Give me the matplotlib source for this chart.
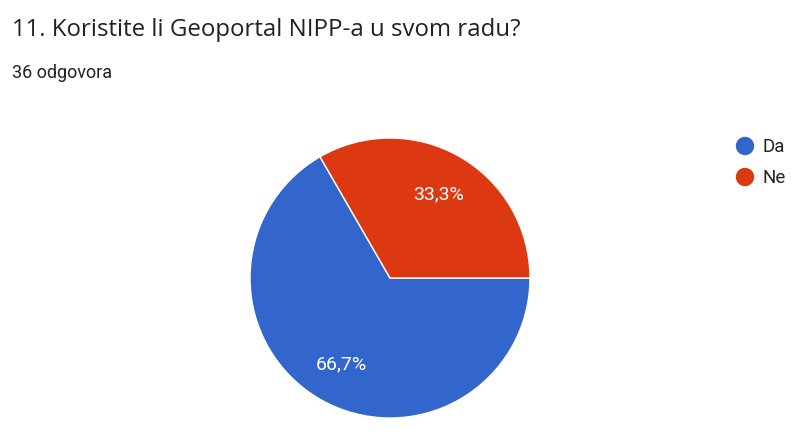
import matplotlib
matplotlib.use("Agg")
import numpy as np
import matplotlib.pyplot as plt
from matplotlib.patches import Ellipse

title = "11. Koristite li Geoportal NIPP-a u svom radu?"
subtitle = "36 odgovora"
labels = ["Da", "Ne"]
values = [24, 12]
colors = ["#3366CC", "#DC3912"]

W, H = 809, 435
fig = plt.figure(figsize=(W / 100, H / 100), dpi=100)
fig.patch.set_facecolor("white")

# pie area: centre (390, 279), radius 140 px
ax = fig.add_axes([250 / W, (H - 419) / H, 280 / W, 280 / H])
wedges, texts = ax.pie(
    values,
    colors=colors,
    startangle=120,
    counterclock=True,
    wedgeprops=dict(edgecolor="white", linewidth=1),
)
ax.set_xlim(-1, 1)
ax.set_ylim(-1, 1)
ax.set_aspect("equal")

total = sum(values)
for w, v in zip(wedges, values):
    theta = np.radians((w.theta1 + w.theta2) / 2)
    pct = f"{100 * v / total:.1f}%".replace(".", ",")
    ax.text(0.7 * np.cos(theta), 0.7 * np.sin(theta), pct,
            color="white", fontsize=14, family="Roboto",
            ha="center", va="center")

fig.text(12 / W, 1 - 30 / H, title, fontsize=17.3, family="Open Sans",
         color="#202124", ha="left", va="center")
fig.text(12 / W, 1 - 73 / H, subtitle, fontsize=13, family="Roboto",
         color="#202124", ha="left", va="center")

# legend
for i, (lab, c) in enumerate(zip(labels, colors)):
    yp = 147 + 31 * i
    fig.patches.append(Ellipse((745 / W, 1 - yp / H), 17 / W, 17 / H,
                               color=c, transform=fig.transFigure, figure=fig))
    fig.text(763 / W, 1 - yp / H, lab, fontsize=13.5, family="Roboto",
             color="#222222", ha="left", va="center")

fig.savefig("out.png", dpi=100)
